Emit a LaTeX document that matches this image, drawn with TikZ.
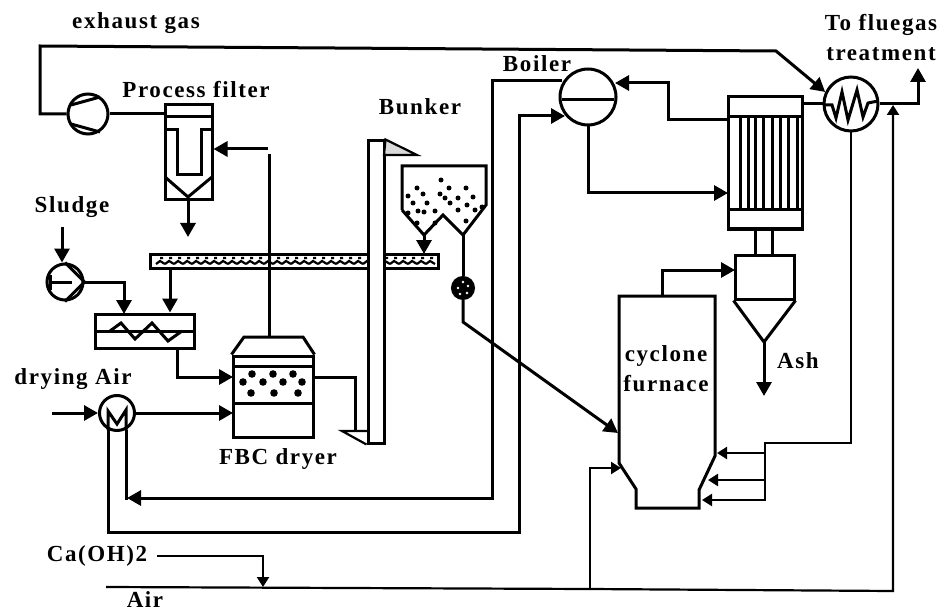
\documentclass[tikz,border=0pt]{standalone}
\usepackage{fontspec}
\setmainfont{Liberation Serif}[LetterSpace=7]
\usepackage{tikz}
\usetikzlibrary{arrows.meta}
\tikzstyle{vessel} = [rectangle, inner sep=0pt, draw=black, line width=3pt]
\tikzstyle{round} = [circle, inner sep=0pt, draw=black, line width=3pt]
\tikzstyle{tag} = [inner sep=0pt, align=center, font=\fontsize{23}{30}\selectfont\bfseries]
\tikzstyle{pipe} = [line width=3pt, line join=miter]
\tikzstyle{thin} = [line width=2.2pt]
\tikzstyle{arrow} = [pipe,-{Triangle[length=14pt,width=15pt]}]
\tikzstyle{thinarrow} = [thin,-{Triangle[length=10pt,width=12pt]}]
\begin{document}
\begin{tikzpicture}[x=1pt, y=-1pt, node distance=50pt]
\useasboundingbox (0,0) rectangle (941,612);
% labels
\node (exhaustlabel) [tag] at (136,23) {exhaust gas};
\node (filterlabel) [tag] at (196,90) {Process filter};
\node (bunkerlabel) [tag] at (420,107) {Bunker};
\node (boilerlabel) [tag] at (537,64) {Boiler};
\node (fluelabel) [tag] at (881,38) {To fluegas\\treatment};
\node (sludgelabel) [tag] at (72,207) {Sludge};
\node (dryingairlabel) [tag] at (73,379) {drying Air};
\node (dryerlabel) [tag] at (278,459) {FBC dryer};
\node (ashlabel) [tag] at (798,361) {Ash};
\node (furnacelabel) [tag] at (666,369) {cyclone\\furnace};
\node (limelabel) [tag] at (97,556) {Ca(OH)2};
\node (airlabel) [tag] at (145,600) {Air};
% conveyor and elevator
\node (conveyor) [vessel, minimum width=288pt, minimum height=14pt] at (294.5,261) {};
\foreach \x in {156,165,...,430}
  \draw [thin] (\x,264) -- ++(4,-3) -- ++(5,3) (\x+4,258) -- ++(3,0);
\node (elevator) [vessel, fill=white, minimum width=16pt, minimum height=302pt] at (376,292) {};
\draw [thin, fill=black!15] (elevator.north east) -- (417,155) -- (384,155) -- cycle;
\coordinate (elevatorin) at (368,431);
\draw [thin] (elevatorin) -- (342,431) -- (elevator.south west);
% process filter
\node (filter) [vessel, minimum width=47pt, minimum height=95pt] at (188.5,152.5) {};
\draw [pipe] (165,117) -- (212,117);
\draw [pipe] (165,130) -- (177,130) -- (177,175) -- (201,175) -- (201,130) -- (212,130);
\draw [pipe] (165,177) -- (188,197) -- (212,177);
% fans and pumps
\node (exhaustfan) [round, minimum size=40pt] at (88,114) {};
\draw [pipe] (71,105) -- (100,97) (71,124) -- (100,132);
\node (sludgepump) [round, minimum size=36pt, below of=sludgelabel, xshift=-7pt, yshift=-25pt] {};
\draw [pipe] (sludgepump.north) -- (sludgepump.east) -- (sludgepump.south);
\draw [pipe] (50,275) -- (50,290) (50,282) -- (72,282);
\node (mixer) [vessel, minimum width=99pt, minimum height=34pt] at (144.5,331) {};
\draw [pipe] (mixer.west) -- (mixer.east);
\draw [pipe] (110,331) -- (121,323) -- (135,339) -- (152,323) -- (168,341) -- (182,331);
% dryer
\node (dryer) [vessel, minimum width=80pt, minimum height=81pt] at (273,396.5) {};
\draw [pipe] (dryer.north west) -- (244,337) -- (303,337) -- (dryer.north east);
\draw [pipe] (233,366) -- (313,366) (233,403) -- (313,403);
\foreach \x/\y in {252/374,273/374,293/374,243/382,263/382,283/382,302/382,251/393,274/393,298/393}
  \fill (\x,\y) circle (3.8);
\node (airheater) [round, minimum size=35pt] at (117,413) {};
\draw [pipe] (108,430) -- (108,411) -- (117,424) -- (126,410) -- (126,430);
% bunker
\draw [pipe] (402,210) -- (402,166) -- (486,166) -- (486,205) -- (463,235) -- (443,215) -- (424,235) -- (402,210);
\foreach \x/\y in {417/188,441/180,449/188,466/188,408/196,423/194,440/194,458/198,473/197,413/203,427/203,445/198,450/203,467/205,458/210,418/211,435/211,424/212,475/210,482/207,466/221,408/213,417/223,435/223}
  \fill (\x,\y) circle (2.5);
\node (valve) [round, fill=black, minimum size=21pt] at (463,288) {};
\foreach \x/\y in {463/282,458/288,468/286,460/294,467/293}
  \fill [white] (\x,\y) circle (1.4);
% boiler and heat exchangers
\node (boiler) [round, minimum size=56pt] at (588,97) {};
\draw [pipe] (562,100) -- (614,100);
\node (tubebank) [vessel, minimum width=74pt, minimum height=132pt] at (765,163) {};
\draw [pipe] (728,117) -- (802,117) (728,210) -- (802,210);
\foreach \x in {740,748,755,763,772,780,788,797}
  \draw [pipe] (\x,117) -- (\x,210);
\node (stackhx) [round, minimum size=54pt] at (851,104) {};
\draw [pipe] (825,105) -- (832,105) -- (836,118) -- (842,92) -- (848,120) -- (857,90) -- (863,117) -- (868,103) -- (878,101);
% cyclone and furnace
\node (cyclone) [vessel, minimum width=59pt, minimum height=44pt] at (764.5,277) {};
\draw [pipe] (cyclone.south west) -- (764,342) -- (cyclone.south east);
\draw [pipe] (755,229) -- (755,255) (772,229) -- (772,255);
\coordinate (furnacetop) at (662,296);
\draw [pipe] (636,508) -- (636,489) -- (619,463) -- (619,296) -- (715,296) -- (715,456) -- (699,490) -- (699,508) -- cycle;
% connectors
\coordinate (exhaustbend) at (776,51);
\draw [arrow] (exhaustfan.west) -| (40,46) -- (exhaustbend) -- (stackhx.155);
\draw [pipe] (exhaustfan.east) -- (filter.west |- exhaustfan.east);
\coordinate (filterin) at (268,149);
\coordinate (filterout) at (188,237);
\draw [arrow] (filterin) -- (filter.east |- filterin);
\draw [arrow] (filter.south -| filterout) -- (filterout);
\coordinate (dryertop) at (269,337);
\coordinate (dryerrise) at (269,154);
\draw [pipe] (dryertop) -- (dryerrise);
\coordinate (sludgein) at (62,227);
\draw [arrow] (sludgein) -- (sludgepump.north -| sludgein);
\coordinate (mixerfeed) at (124,314);
\draw [arrow] (sludgepump.east) -| (mixerfeed);
\coordinate (conveyorout) at (170,268);
\draw [arrow] (conveyorout) -- (mixer.north -| conveyorout);
\coordinate (mixerout) at (177,348);
\coordinate (dryerfeed) at (233,377);
\draw [arrow] (mixerout) |- (dryerfeed);
\coordinate (dryingair) at (52,413);
\draw [arrow] (dryingair) -- (airheater.west);
\coordinate (dryerair) at (233,413);
\draw [arrow] (airheater.east) -- (dryerair);
\coordinate (dryerout) at (313,377);
\coordinate (dryerdrop) at (355,431);
\draw [pipe] (dryerout) -| (dryerdrop);
\coordinate (bunkerout) at (424,235);
\coordinate (conveyorin) at (424,254);
\draw [arrow] (bunkerout) -- (conveyorin);
\coordinate (bunkertip) at (463,235);
\draw [pipe] (bunkertip) -- (valve.north);
\coordinate (valvebend) at (463,322);
\coordinate (furnacefeed) at (618,433);
\draw [arrow] (valve.south) -- (valvebend) -- (furnacefeed);
\coordinate (boilerfeed) at (562,81);
\coordinate (heaterret) at (127,498);
\coordinate (heaterout) at (108,430);
\coordinate (boilerin) at (565,116);
\draw [arrow] (boilerfeed) -| (492,498) -- (heaterret);
\draw [pipe] (126,430) -- (126,499.5);
\draw [arrow] (heaterout) |- (519,532) |- (boilerin);
\coordinate (tubeout) at (728,120);
\coordinate (boilerret) at (615,83);
\draw [arrow] (tubeout) -| (668,83) -- (boilerret);
\coordinate (tubein) at (728,193);
\draw [arrow] (boiler.south) |- (tubein);
\draw [pipe] (tubebank.east |- stackhx) -- (stackhx.west);
\coordinate (stackout) at (918,68);
\draw [arrow] (stackhx.east) -| (stackout);
\coordinate (cyclonein) at (735,270);
\draw [arrow] (furnacetop) |- (cyclonein);
\coordinate (ashout) at (764,396);
\draw [arrow] (764,342) -- (ashout);
\coordinate (stage) at (765,443);
\coordinate (stagea) at (717,453);
\coordinate (stageb) at (708,480);
\coordinate (stagec) at (702,500);
\draw [thin] (stackhx.south) |- (stage) -- (765,501);
\draw [thinarrow] (stagea -| stage) -- (stagea);
\draw [thinarrow] (stageb -| stage) -- (stageb);
\draw [thinarrow] (stagec -| stage) -- (stagec);
\coordinate (limein) at (157,556);
\coordinate (limeout) at (263,587);
\draw [thinarrow] (limein) -| (limeout);
\coordinate (airin) at (106,587);
\coordinate (airtee) at (590,589);
\coordinate (airup) at (621,468);
\coordinate (airtop) at (893,105);
\draw [thin] (airin) -- (airtee);
\draw [thinarrow] (airtee) |- (airup);
\draw [thinarrow] (airtee) -- (893,591) -- (airtop);
\end{tikzpicture}
\end{document}
